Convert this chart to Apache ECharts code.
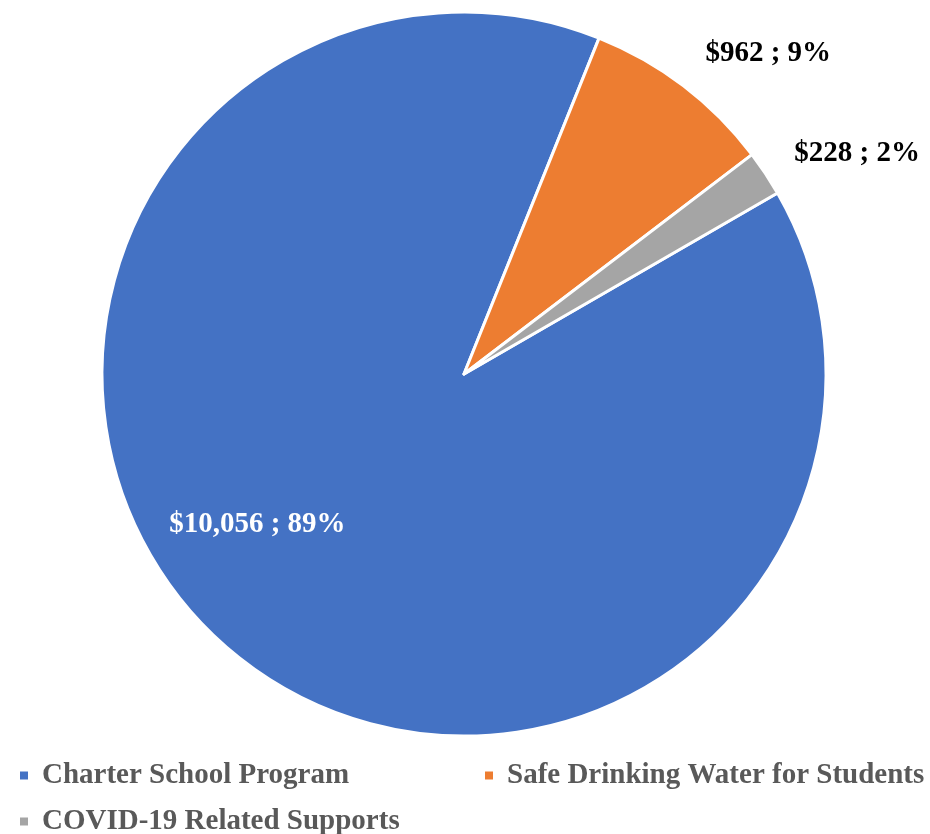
<!DOCTYPE html>
<html><head><meta charset="utf-8">
<script src="https://cdn.jsdelivr.net/npm/echarts@6/dist/echarts.min.js"></script>
<style>html,body{margin:0;padding:0;background:#fff}#c{width:930px;height:834px}</style>
</head><body><div id="c"></div>
<script>
const categories = ['Charter School Program', 'Safe Drinking Water for Students', 'COVID-19 Related Supports'];
const values = [10056, 962, 228];
const percents = ['89%', '9%', '2%'];
const colors = ['#4472C4', '#ED7D31', '#A5A5A5'];

const labelCfg = [
  {position: 'inside', color: '#fff', offset: [-86, 12]},
  {position: 'outside', color: '#000', offset: [17, -33]},
  {position: 'outside', color: '#000', offset: [24, -20]}
];
const font = '"Liberation Serif", "Times New Roman", serif';
const data = categories.map((c, i) => ({
  name: c, value: values[i],
  itemStyle: {color: colors[i]},
  label: Object.assign({
    show: true, fontFamily: font, fontWeight: 'bold', fontSize: 29,
    formatter: '$' + values[i].toLocaleString('en-US') + ' ; ' + percents[i]
  }, labelCfg[i])
}));

const legendPos = [{left: 13, top: 756}, {left: 478, top: 756}, {left: 13, top: 802}];
const chart = echarts.init(document.getElementById('c'));
chart.setOption({
  animation: false,
  legend: categories.map((c, i) => ({
    data: [c], left: legendPos[i].left, top: legendPos[i].top,
    icon: 'rect', itemWidth: 10, itemHeight: 10, itemGap: 0,
    textStyle: {fontFamily: font, fontWeight: 'bold', fontSize: 29, color: '#595959', padding: [0, 0, 0, 8]}
  })),
  series: [{
    type: 'pie', center: [464, 374], radius: 362,
    startAngle: 30, clockwise: true,
    itemStyle: {borderColor: '#fff', borderWidth: 3},
    labelLine: {show: false, length: 0, length2: 0},
    data: data
  }]
});
</script></body></html>
